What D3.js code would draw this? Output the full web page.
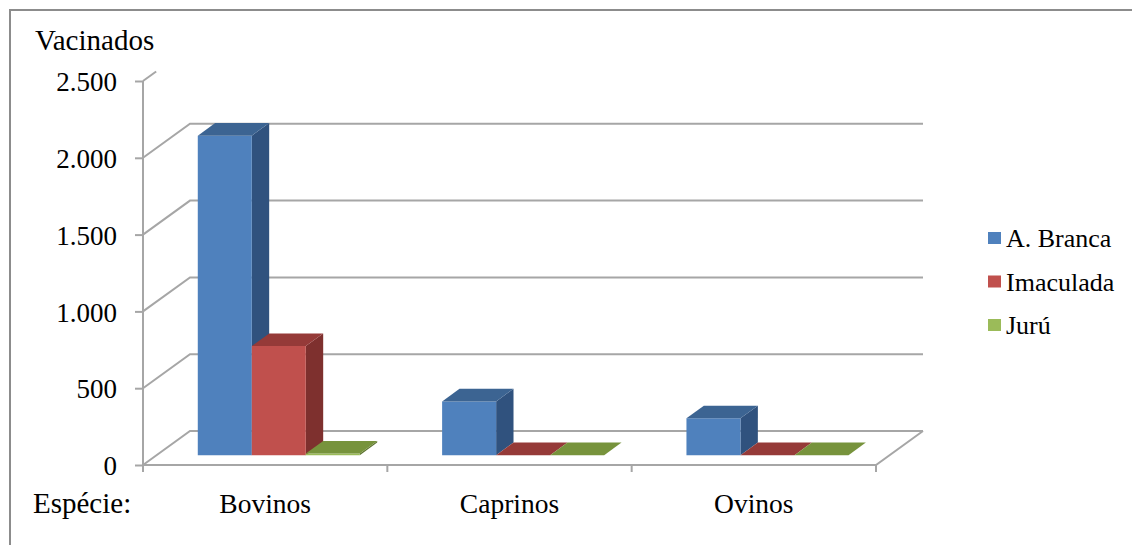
<!DOCTYPE html>
<html><head><meta charset="utf-8">
<script src="https://cdn.jsdelivr.net/npm/d3@7"></script>
<style>html,body{margin:0;padding:0;background:#fff;}svg{display:block;}
svg text{font-family:"Liberation Serif","Times New Roman",Tinos,Times,"DejaVu Serif",serif !important;}</style>
</head><body><svg id="c" width="1132" height="545"></svg>
<script>
const categories = ["Bovinos", "Caprinos", "Ovinos"];
const seriesNames = ["A. Branca", "Imaculada", "Jurú"];
const aBranca = [2080, 350, 240];
const imaculada = [710, 0, 0];
const juru = [10, 0, 0];
const yTicks = [0, 500, 1000, 1500, 2000, 2500];
const yTitle = "Vacinados";
const xTitle = "Espécie:";

const seriesValues = [aBranca, imaculada, juru];
const colors = [
  {front: "#4F81BD", side: "#30527E", top: "#3C6492"},
  {front: "#C0504D", side: "#7E302E", top: "#953A38"},
  {front: "#9BBB59", side: "#5E7530", top: "#77933C"}
];
const legendColors = ["#4F81BD", "#C0504D", "#9BBB59"];

const svg = d3.select("#c");
const W = 1132, H = 545;
const DX = 47, DY = -34;       // full depth offset
const D0 = 0.29, D1 = 0.66;    // bar depth range

const x0 = d3.scaleBand().domain(categories).range([143, 876]).padding(0);
const x1 = d3.scaleBand().domain(seriesNames).range([0, x0.bandwidth()]).paddingInner(0).paddingOuter(0.762);
const y = d3.scaleLinear().domain([0, 2500]).range([465, 81]);
const P = (x, v, d) => [x + d * DX, y(v) + d * DY];
const fmt = d3.formatLocale({decimal: ",", thousands: ".", grouping: [3], currency: ["", ""]}).format(",");

// outer border
svg.append("rect").attr("x", 10).attr("y", 10).attr("width", W + 20).attr("height", H + 20)
  .attr("fill", "none").attr("stroke", "#8C8C8C").attr("stroke-width", 2);

const grid = "#A6A6A6";
const line = (pts) => d3.line()(pts);

// gridlines on back wall + side wall diagonals
yTicks.forEach(t => {
  if (t < 2500) {
    svg.append("path").attr("d", line([P(143, t, 0), P(143, t, 1), P(876, t, 1)]))
      .attr("fill", "none").attr("stroke", grid).attr("stroke-width", 2);
  } else {
    svg.append("path").attr("d", line([P(143, t, 0), P(143, t, 0.28)]))
      .attr("fill", "none").attr("stroke", grid).attr("stroke-width", 2);
  }
});
// floor front edge and right diagonal
svg.append("path").attr("d", line([P(143, 0, 0), P(876, 0, 0), P(876, 0, 1)]))
  .attr("fill", "none").attr("stroke", grid).attr("stroke-width", 2);
// y axis line
svg.append("path").attr("d", line([P(143, 0, 0), P(143, 2500, 0)]))
  .attr("fill", "none").attr("stroke", grid).attr("stroke-width", 2);

// y axis ticks + labels
const yAxis = d3.axisLeft(y).tickValues(yTicks).tickFormat(fmt).tickSize(8).tickPadding(18);
const ga = svg.append("g").attr("transform", "translate(143,0)").call(yAxis);
ga.attr("font-family", null);
ga.select(".domain").remove();
ga.selectAll(".tick line").attr("stroke", grid).attr("stroke-width", 2);
ga.selectAll(".tick text").attr("font-size", 27).attr("fill", "#000").attr("dy", "0.36em");

// x ticks at category boundaries
const bounds = categories.map(c => x0(c)).concat([x0(categories[categories.length - 1]) + x0.bandwidth()]);
svg.selectAll(".xt").data(bounds).enter().append("line")
  .attr("x1", d => d).attr("x2", d => d).attr("y1", y(0)).attr("y2", y(0) + 7)
  .attr("stroke", grid).attr("stroke-width", 2);

// bars
categories.forEach((c, ci) => {
  seriesNames.forEach((s, si) => {
    const v = seriesValues[si][ci];
    const xl = x0(c) + x1(s), xr = xl + x1.bandwidth();
    const col = colors[si];
    const g = svg.append("g");
    if (v > 0) {
      g.append("path").attr("d", line([P(xr, 0, D0), P(xr, 0, D1), P(xr, v, D1), P(xr, v, D0)]) + "Z").attr("fill", col.side);
      g.append("path").attr("d", line([P(xl, 0, D0), P(xr, 0, D0), P(xr, v, D0), P(xl, v, D0)]) + "Z").attr("fill", col.front);
    }
    g.append("path").attr("d", line([P(xl, v, D0), P(xr, v, D0), P(xr, v, D1), P(xl, v, D1)]) + "Z").attr("fill", col.top);
  });
});

// category labels
svg.selectAll(".cl").data(categories).enter().append("text")
  .attr("x", d => x0(d) + x0.bandwidth() / 2).attr("y", 513)
  .attr("text-anchor", "middle").attr("font-size", 27.5).attr("fill", "#000").text(d => d);

svg.append("text").attr("x", 33).attr("y", 513).attr("font-size", 29).attr("fill", "#000").text(xTitle);
svg.append("text").attr("x", 35).attr("y", 50).attr("font-size", 29).attr("fill", "#000").text(yTitle);

// legend
const lg = svg.append("g");
seriesNames.forEach((s, i) => {
  const yy = 238 + i * 43.5;
  lg.append("rect").attr("x", 988).attr("y", yy - 6).attr("width", 13).attr("height", 12).attr("fill", legendColors[i]);
  lg.append("text").attr("x", 1006).attr("y", yy + 9).attr("font-size", 26).attr("fill", "#000").text(s);
});
</script></body></html>
